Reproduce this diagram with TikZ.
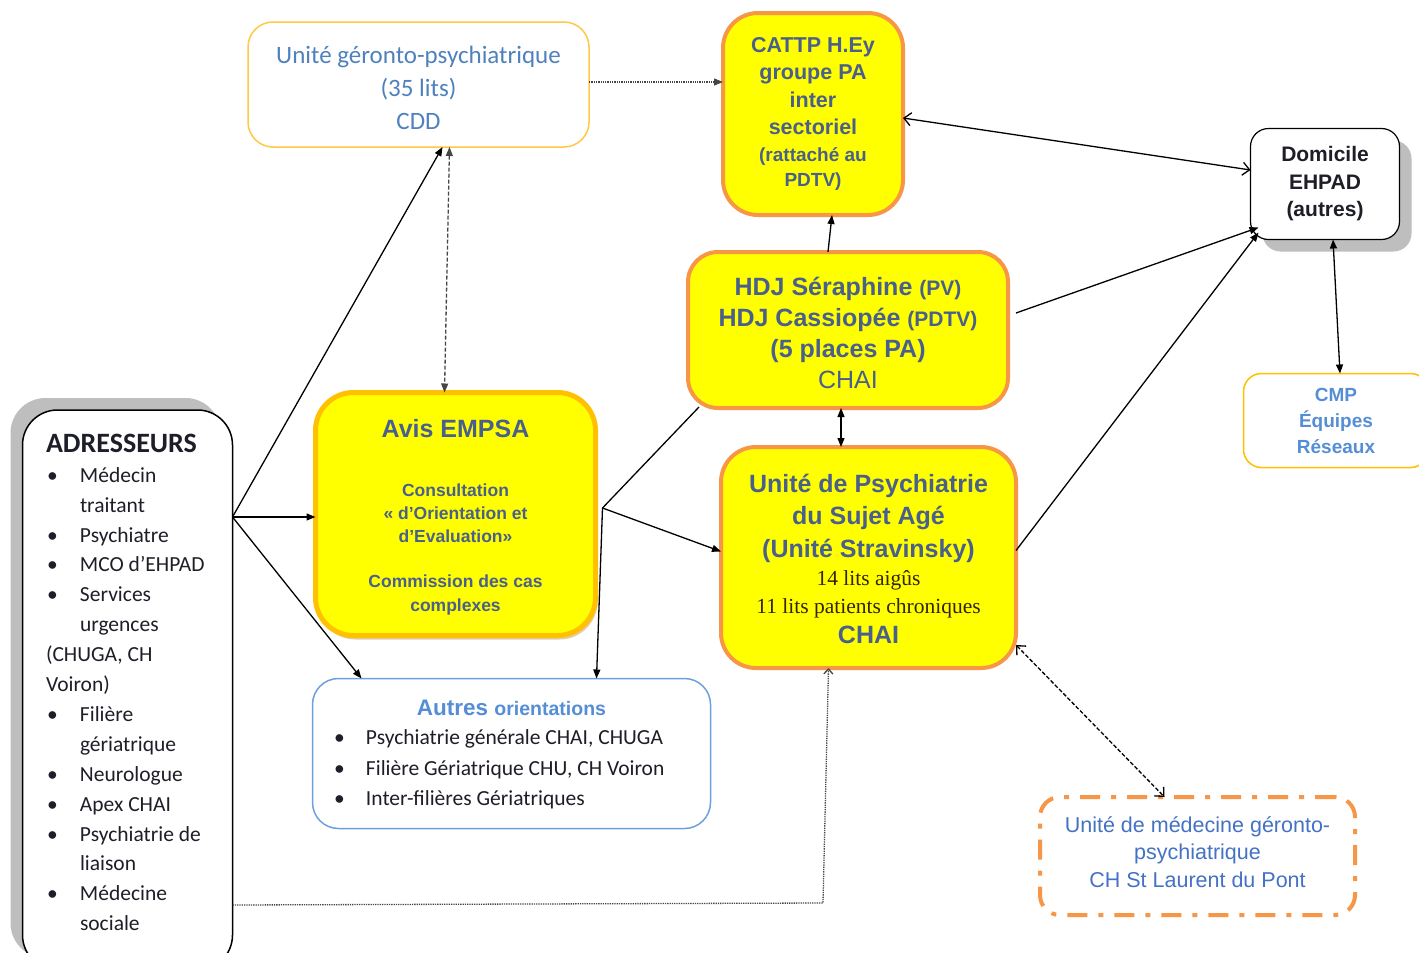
\documentclass[tikz,border=0pt]{standalone}
\usepackage{fontspec}
\setmainfont{Carlito}
\newfontfamily\arialf{Liberation Sans}
\newfontfamily\tnrf{Liberation Serif}
\usetikzlibrary{arrows.meta,shadows}
\definecolor{yfill}{RGB}{255,255,0}
\definecolor{oborder}{RGB}{247,150,70}
\definecolor{gborder}{RGB}{255,192,0}
\definecolor{lgborder}{RGB}{255,200,70}
\definecolor{tblue}{RGB}{74,96,140}
\definecolor{lblue}{RGB}{79,129,189}
\definecolor{cblue}{RGB}{85,142,213}
\definecolor{mblue}{RGB}{68,114,196}
\definecolor{bborder}{RGB}{110,160,220}
\definecolor{shadowgray}{RGB}{190,190,190}
\definecolor{dark}{RGB}{30,30,40}
\definecolor{serifc}{RGB}{50,35,10}
\definecolor{dotc}{RGB}{70,70,70}
\newcommand\adrbul{\makebox[34pt][l]{\hspace{1pt}•}}
\newcommand\adrind{\hspace*{34pt}}
\newcommand\autbul{\makebox[32pt][l]{•}}
\begin{document}
\begin{tikzpicture}[x=1pt,y=-1pt,
  every node/.style={inner sep=0pt, outer sep=0pt},
  rbox/.style={draw, rectangle, align=center},
  ybox/.style={rbox, fill=yfill, draw=oborder, line width=4pt},
  conn/.style={line width=1.3pt, draw=black},
  fa/.style={conn, -{Triangle[length=9pt,width=7pt]}},
  fab/.style={conn, {Triangle[length=9pt,width=7pt]}-{Triangle[length=9pt,width=7pt]}},
  oab/.style={conn, {Straight Barb[length=7pt,width=13pt]}-{Straight Barb[length=7pt,width=13pt]}}
]
\useasboundingbox (0,0) rectangle (1419,953);
\fill[white] (0,0) rectangle (1419,953);

% boxes
\node[rbox, draw=lgborder, line width=1.5pt, rounded corners=25pt, minimum width=341pt, minimum height=125pt] (geronto) at (418.5,84.5) {};
\node[text=lblue, align=center, font=\fontsize{25}{33}\selectfont] (gerontoT) at (418.5,87.5) {Unité géronto-psychiatrique\\(35 lits)\\CDD};

\node[ybox, rounded corners=35pt, minimum width=180pt, minimum height=202pt, text=tblue, font=\arialf\bfseries\fontsize{21.5}{27.3}\selectfont] (cattp) at (813,114) {CATTP H.Ey\\groupe PA\\inter\\sectoriel\\{\fontsize{19}{25}\selectfont(rattaché au}\\[-2.3pt]{\fontsize{19}{25}\selectfont PDTV)}};

\node[ybox, rounded corners=30pt, minimum width=320pt, minimum height=156pt] (hdj) at (848,330) {};
\node[text=tblue, align=center, font=\arialf\bfseries\fontsize{25}{31}\selectfont] (hdjT) at (848,333) {HDJ Séraphine {\fontsize{21}{25}\selectfont (PV)}\\HDJ Cassiopée {\fontsize{21}{25}\selectfont (PDTV)}\\(5 places PA)\\{\mdseries CHAI}};

\node[ybox, rounded corners=35pt, minimum width=295pt, minimum height=221pt] (psy) at (868.5,557.5) {};
\node[text=tblue, align=center, font=\arialf\bfseries\fontsize{25}{32.5}\selectfont] (psyT) at (868.5,558.5) {Unité de Psychiatrie\\du Sujet Agé\\(Unité Stravinsky)\\[-4.5pt]{\tnrf\mdseries\color{serifc}\fontsize{21.5}{28}\selectfont 14 lits aigûs}\\[-4.5pt]{\tnrf\mdseries\color{serifc}\fontsize{21.5}{28}\selectfont 11 lits patients chroniques}\\[-2.5pt]CHAI};

\node[rbox, fill=yfill, draw=gborder, line width=5pt, rounded corners=38pt, minimum width=280pt, minimum height=243pt, drop shadow={shadow xshift=2pt, shadow yshift=-4pt, fill={rgb,255:red,215;green,185;blue,130}, opacity=0.7}] (avis) at (455.5,514) {};
\node[text=tblue, align=center, font=\arialf\bfseries\fontsize{17.5}{23.3}\selectfont] (avisT) at (455.5,517) {{\fontsize{25}{30}\selectfont Avis EMPSA}\\[35.7pt]Consultation\\« d’Orientation et\\d’Evaluation»\\[21.7pt]Commission des cas\\complexes};

\node[rbox, draw=black, line width=1.5pt, fill=white, rounded corners=35pt, minimum width=210pt, minimum height=560pt, drop shadow={shadow xshift=-12pt, shadow yshift=12pt, fill=shadowgray, opacity=1}] (adr) at (127.5,690) {};
\node[anchor=north west, align=left, text=dark, font=\fontsize{21.5}{29.9}\selectfont] (adrT) at (46,434) {{\bfseries\fontsize{28}{29.9}\selectfont ADRESSEURS}\\\adrbul Médecin\\\adrind traitant\\\adrbul Psychiatre\\\adrbul MCO d’EHPAD\\\adrbul Services\\\adrind urgences\\(CHUGA, CH\\Voiron)\\\adrbul Filière\\\adrind gériatrique\\\adrbul Neurologue\\\adrbul Apex CHAI\\\adrbul Psychiatrie de\\\adrind liaison\\\adrbul Médecine\\\adrind sociale};

\node[rbox, draw=black, line width=1.2pt, fill=white, rounded corners=18pt, minimum width=149pt, minimum height=111pt, drop shadow={shadow xshift=12pt, shadow yshift=-12pt, fill=shadowgray, opacity=1}, text=dark, font=\arialf\bfseries\fontsize{21}{27.5}\selectfont] (dom) at (1325,184) {Domicile\\EHPAD\\(autres)};

\node[rbox, draw=gborder, line width=1.5pt, rounded corners=18pt, minimum width=185pt, minimum height=94pt, text=cblue, font=\arialf\bfseries\fontsize{19}{26}\selectfont] (cmp) at (1336,420.5) {CMP\\Équipes\\Réseaux};

\node[rbox, draw=bborder, line width=1.5pt, rounded corners=26pt, minimum width=398pt, minimum height=150pt] (autres) at (511.5,753.5) {};
\node[text=cblue, font=\arialf\bfseries\fontsize{22.5}{27}\selectfont] (autresT) at (511.5,708) {Autres {\fontsize{19.5}{24}\selectfont orientations}};
\node[anchor=north west, align=left, text=dark, font=\fontsize{21.5}{30.5}\selectfont] (autresL) at (334,730) {\autbul Psychiatrie générale CHAI, CHUGA\\\autbul Filière Gériatrique CHU, CH Voiron\\\autbul Inter-filières Gériatriques};

\node[rbox, draw=oborder, line width=4pt, dash pattern=on 20pt off 11pt on 5pt off 11pt, rounded corners=20pt, minimum width=315pt, minimum height=118pt] (med) at (1197.5,856) {};
\node[text=mblue, align=center, font=\arialf\fontsize{21.5}{27.5}\selectfont] (medT) at (1197.5,852) {Unité de médecine géronto-\\psychiatrique\\CH St Laurent du Pont};

% connectors
\coordinate[yshift=-3pt] (hub) at (adr.east |- avis.west);
\draw[fa] (hub) -- ([xshift=24pt]geronto.south);
\draw[fa] (hub) -- (hub -| avis.west);
\draw[fa] (hub) -- ([xshift=-150pt]autres.north);
\draw[conn, draw=dotc, dash pattern=on 4pt off 2pt, {Triangle[length=9pt,width=7pt]}-{Triangle[length=9pt,width=7pt]}] ([xshift=31pt]geronto.south) -- ([xshift=-11pt]avis.north);
\draw[conn, draw=dotc, densely dotted, -{Triangle[length=9pt,width=7pt]}] ([yshift=2.5pt]geronto.east) -- ([yshift=2.5pt]geronto.east -| cattp.west);

\coordinate (J) at ([xshift=7pt,yshift=6pt]avis.east);
\draw[conn] (J) -- ([xshift=11pt,yshift=1pt]hdj.south west);
\draw[fa] (J) -- ([yshift=6pt]psy.west);
\draw[fa] (J) -- ([xshift=85pt]autres.north);
\draw[fa] ([xshift=-20pt]hdj.north) -- ([xshift=19pt]cattp.south);
\draw[fab] ([xshift=-7pt]hdj.south) -- ([xshift=-7pt]hdj.south |- psy.north);
\draw[oab] ([yshift=-4pt]cattp.east) -- ([yshift=14pt]dom.west);
\draw[fa] ([xshift=8pt,yshift=17pt]hdj.east) -- ([xshift=8pt,yshift=12pt]dom.south west);
\draw[fa] ([yshift=7pt]psy.east) -- ([xshift=8pt,yshift=7pt]dom.south west);
\draw[fab] ([xshift=8pt]dom.south) -- ([xshift=4pt]cmp.north);
\draw[oab, dash pattern=on 4pt off 2pt] ([yshift=23pt]psy.south east) -- ([xshift=-33pt]med.north);
\coordinate (bend) at (823,903);
\draw[conn, draw=dotc, densely dotted, -{Straight Barb[length=5pt,width=9pt]}] ([yshift=-215pt]adr.east) -- (bend) -- ([xshift=-40pt]psy.south);
\end{tikzpicture}
\end{document}
